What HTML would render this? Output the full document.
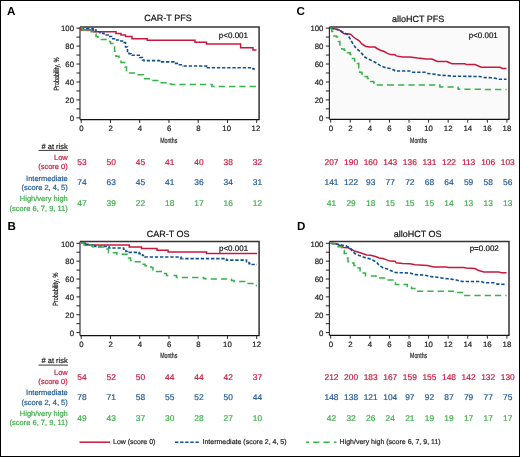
<!DOCTYPE html><html><head><meta charset="utf-8"><style>html,body{margin:0;padding:0;background:#fff;}#w{position:absolute;left:0;top:0;width:520px;height:457px;will-change:transform;filter:blur(0.3px);}svg{display:block;}text{font-family:"Liberation Sans", sans-serif;text-rendering:geometricPrecision;}</style></head><body><div id="w">
<svg width="520" height="457" viewBox="0 0 520 457">
<rect x="0" y="0" width="520" height="457" fill="#fff"/>
<rect x="0.5" y="0.5" width="519" height="456" fill="none" stroke="#000" stroke-width="1"/>
<path d="M80.0,26.9 H259.1 V119.6" fill="none" stroke="#333" stroke-width="1.5"/>
<path d="M80.0,26.9 V119.6" fill="none" stroke="#333" stroke-width="1.2"/>
<path d="M80.0,119.6 H259.6" fill="none" stroke="#111" stroke-width="1.2"/>
<path d="M76.4,117.85 H80.0 M76.4,108.88 H80.0 M76.4,99.91 H80.0 M76.4,90.94 H80.0 M76.4,81.97 H80.0 M76.4,73.00 H80.0 M76.4,64.03 H80.0 M76.4,55.06 H80.0 M76.4,46.09 H80.0 M76.4,37.12 H80.0 M76.4,28.15 H80.0 M81.20,119.6 V122.89999999999999 M110.45,119.6 V122.89999999999999 M139.70,119.6 V122.89999999999999 M168.95,119.6 V122.89999999999999 M198.20,119.6 V122.89999999999999 M227.45,119.6 V122.89999999999999 M256.70,119.6 V122.89999999999999 " fill="none" stroke="#222" stroke-width="1"/>
<text x="74.00" y="120.60" font-size="7.8" fill="#222" text-anchor="end" font-weight="normal" stroke="#222" stroke-width="0.2" >0</text>
<text x="74.00" y="102.66" font-size="7.8" fill="#222" text-anchor="end" font-weight="normal" stroke="#222" stroke-width="0.2" >20</text>
<text x="74.00" y="84.72" font-size="7.8" fill="#222" text-anchor="end" font-weight="normal" stroke="#222" stroke-width="0.2" >40</text>
<text x="74.00" y="66.78" font-size="7.8" fill="#222" text-anchor="end" font-weight="normal" stroke="#222" stroke-width="0.2" >60</text>
<text x="74.00" y="48.84" font-size="7.8" fill="#222" text-anchor="end" font-weight="normal" stroke="#222" stroke-width="0.2" >80</text>
<text x="74.00" y="30.90" font-size="7.8" fill="#222" text-anchor="end" font-weight="normal" stroke="#222" stroke-width="0.2" >100</text>
<text x="81.30" y="130.60" font-size="7.8" fill="#222" text-anchor="middle" font-weight="normal" stroke="#222" stroke-width="0.2" >0</text>
<text x="110.55" y="130.60" font-size="7.8" fill="#222" text-anchor="middle" font-weight="normal" stroke="#222" stroke-width="0.2" >2</text>
<text x="139.80" y="130.60" font-size="7.8" fill="#222" text-anchor="middle" font-weight="normal" stroke="#222" stroke-width="0.2" >4</text>
<text x="169.05" y="130.60" font-size="7.8" fill="#222" text-anchor="middle" font-weight="normal" stroke="#222" stroke-width="0.2" >6</text>
<text x="198.30" y="130.60" font-size="7.8" fill="#222" text-anchor="middle" font-weight="normal" stroke="#222" stroke-width="0.2" >8</text>
<text x="226.65" y="130.60" font-size="7.8" fill="#222" text-anchor="middle" font-weight="normal" stroke="#222" stroke-width="0.2" >10</text>
<text x="255.90" y="130.60" font-size="7.8" fill="#222" text-anchor="middle" font-weight="normal" stroke="#222" stroke-width="0.2" >12</text>
<text x="168.75" y="142.50" font-size="7.5" fill="#222" text-anchor="middle" font-weight="normal" stroke="#222" stroke-width="0.2" textLength="17" lengthAdjust="spacingAndGlyphs">Months</text>
<text x="0" y="0" font-size="7.5" fill="#222" text-anchor="middle" stroke="#222" stroke-width="0.2" textLength="33.1" lengthAdjust="spacingAndGlyphs" transform="translate(59.2,74.05) rotate(-90)">Probability, %</text>
<text x="168.00" y="21.30" font-size="9.0" fill="#111" text-anchor="middle" font-weight="normal" stroke="#111" stroke-width="0.2" >CAR-T PFS</text>
<text x="248.00" y="37.90" font-size="8.0" fill="#111" text-anchor="end" font-weight="normal" stroke="#111" stroke-width="0.2" >p&lt;0.001</text>
<text x="7.00" y="14.80" font-size="11.6" fill="#000" text-anchor="start" font-weight="bold" >A</text>
<path d="M81,28.3 V29.9 H93.5 V31.75 H116 V33.4 H121 V35 H125.5 V36.5 H132 V38.75 H147.2 V40.25 H195 V42.2 H206.5 V44 H240.6 V47.75 H253 V50 H256.5" fill="none" stroke="#c8193c" stroke-width="1.5" stroke-linejoin="miter"/>
<path d="M81.00,28.50 L93.00,28.50 L93.00,30.00 L96.00,30.00 L96.00,31.75 L100.00,31.75 L100.00,33.40 L104.00,33.40 L104.00,35.00 L108.00,35.00 L108.00,36.50 L111.50,36.50 L111.50,38.75 L115.50,38.75 L115.50,40.00 L120.00,40.00 L120.00,41.00 L124.00,41.00 L124.00,42.50 L125.50,42.50 L125.50,47.00 L127.50,47.00 L127.50,51.50 L129.00,51.50 L129.00,53.75 L131.00,53.75 L131.00,55.25 L140.00,55.25 L140.00,57.50 L142.50,57.50 L142.50,60.00 L144.00,60.00 L144.00,60.60 L160.50,60.60 L160.50,61.90 L174.50,61.90 L174.50,63.40 L178.50,63.40 L178.50,64.75 L182.50,64.75 L182.50,66.00 L183.00,66.00" fill="none" stroke="#11508f" stroke-width="1.6" stroke-dasharray="3.3 1.85" stroke-dashoffset="0.00"/>
<path d="M183.00,66.00 L206.50,66.00 L206.50,67.75 L206.60,67.75" fill="none" stroke="#11508f" stroke-width="1.6" stroke-dasharray="3.3 1.85" stroke-dashoffset="4.55"/>
<path d="M206.60,67.75 L253.00,67.75 L253.00,69.00 L256.50,69.00" fill="none" stroke="#11508f" stroke-width="1.6" stroke-dasharray="3.3 1.85" stroke-dashoffset="5.10"/>
<path d="M81.00,28.30 L82.50,28.30 L82.50,29.90 L91.00,29.90 L91.00,31.75 L94.00,31.75 L94.00,34.00 L96.00,34.00 L96.00,36.50 L98.00,36.50 L98.00,39.60 L108.00,39.60 L108.00,41.50 L110.50,41.50 L110.50,43.40 L113.00,43.40 L113.00,47.00 L114.50,47.00 L114.50,51.25 L116.00,51.25 L116.00,56.25 L119.00,56.25 L119.00,59.00 L121.00,59.00 L121.00,62.50 L125.00,62.50 L125.00,67.00 L126.50,67.00 L126.50,70.60 L128.00,70.60 L128.00,73.10 L136.00,73.10 L136.00,74.75 L143.50,74.75 L143.50,78.75 L151.00,78.75 L151.00,80.60 L159.50,80.60 L159.50,82.75 L168.00,82.75 L168.00,84.00 L171.00,84.00 L171.00,84.60 L171.00,84.60" fill="none" stroke="#36b24a" stroke-width="1.5" stroke-dasharray="6.2 4.1" stroke-dashoffset="0.00"/>
<path d="M171.00,84.60 L212.00,84.60 L212.00,86.50 L212.50,86.50" fill="none" stroke="#36b24a" stroke-width="1.5" stroke-dasharray="6.2 4.1" stroke-dashoffset="1.90"/>
<path d="M212.50,86.50 L256.50,86.50" fill="none" stroke="#36b24a" stroke-width="1.5" stroke-dasharray="6.2 4.1" stroke-dashoffset="4.05"/>
<text x="82.00" y="164.70" font-size="8.4" fill="#c8193c" text-anchor="middle" font-weight="normal" stroke="#c8193c" stroke-width="0.2" >53</text>
<text x="111.25" y="164.70" font-size="8.4" fill="#c8193c" text-anchor="middle" font-weight="normal" stroke="#c8193c" stroke-width="0.2" >50</text>
<text x="140.50" y="164.70" font-size="8.4" fill="#c8193c" text-anchor="middle" font-weight="normal" stroke="#c8193c" stroke-width="0.2" >45</text>
<text x="169.75" y="164.70" font-size="8.4" fill="#c8193c" text-anchor="middle" font-weight="normal" stroke="#c8193c" stroke-width="0.2" >41</text>
<text x="199.00" y="164.70" font-size="8.4" fill="#c8193c" text-anchor="middle" font-weight="normal" stroke="#c8193c" stroke-width="0.2" >40</text>
<text x="228.25" y="164.70" font-size="8.4" fill="#c8193c" text-anchor="middle" font-weight="normal" stroke="#c8193c" stroke-width="0.2" >38</text>
<text x="257.50" y="164.70" font-size="8.4" fill="#c8193c" text-anchor="middle" font-weight="normal" stroke="#c8193c" stroke-width="0.2" >32</text>
<text x="82.00" y="185.30" font-size="8.4" fill="#1f5a96" text-anchor="middle" font-weight="normal" stroke="#1f5a96" stroke-width="0.2" >74</text>
<text x="111.25" y="185.30" font-size="8.4" fill="#1f5a96" text-anchor="middle" font-weight="normal" stroke="#1f5a96" stroke-width="0.2" >63</text>
<text x="140.50" y="185.30" font-size="8.4" fill="#1f5a96" text-anchor="middle" font-weight="normal" stroke="#1f5a96" stroke-width="0.2" >45</text>
<text x="169.75" y="185.30" font-size="8.4" fill="#1f5a96" text-anchor="middle" font-weight="normal" stroke="#1f5a96" stroke-width="0.2" >41</text>
<text x="199.00" y="185.30" font-size="8.4" fill="#1f5a96" text-anchor="middle" font-weight="normal" stroke="#1f5a96" stroke-width="0.2" >36</text>
<text x="228.25" y="185.30" font-size="8.4" fill="#1f5a96" text-anchor="middle" font-weight="normal" stroke="#1f5a96" stroke-width="0.2" >34</text>
<text x="257.50" y="185.30" font-size="8.4" fill="#1f5a96" text-anchor="middle" font-weight="normal" stroke="#1f5a96" stroke-width="0.2" >31</text>
<text x="82.00" y="205.90" font-size="8.4" fill="#3daf4a" text-anchor="middle" font-weight="normal" stroke="#3daf4a" stroke-width="0.2" >47</text>
<text x="111.25" y="205.90" font-size="8.4" fill="#3daf4a" text-anchor="middle" font-weight="normal" stroke="#3daf4a" stroke-width="0.2" >39</text>
<text x="140.50" y="205.90" font-size="8.4" fill="#3daf4a" text-anchor="middle" font-weight="normal" stroke="#3daf4a" stroke-width="0.2" >22</text>
<text x="169.75" y="205.90" font-size="8.4" fill="#3daf4a" text-anchor="middle" font-weight="normal" stroke="#3daf4a" stroke-width="0.2" >18</text>
<text x="199.00" y="205.90" font-size="8.4" fill="#3daf4a" text-anchor="middle" font-weight="normal" stroke="#3daf4a" stroke-width="0.2" >17</text>
<text x="228.25" y="205.90" font-size="8.4" fill="#3daf4a" text-anchor="middle" font-weight="normal" stroke="#3daf4a" stroke-width="0.2" >16</text>
<text x="257.50" y="205.90" font-size="8.4" fill="#3daf4a" text-anchor="middle" font-weight="normal" stroke="#3daf4a" stroke-width="0.2" >12</text>
<text x="67.80" y="148.60" font-size="7.5" fill="#222" text-anchor="end" font-weight="normal" stroke="#222" stroke-width="0.2" ># at risk</text>
<path d="M38.5,150.40 H68" stroke="#222" stroke-width="0.9"/>
<text x="67.80" y="160.10" font-size="7.5" fill="#c8193c" text-anchor="end" font-weight="normal" stroke="#c8193c" stroke-width="0.2" >Low</text>
<text x="67.80" y="169.20" font-size="7.5" fill="#c8193c" text-anchor="end" font-weight="normal" stroke="#c8193c" stroke-width="0.2" >(score 0)</text>
<text x="67.80" y="180.70" font-size="7.5" fill="#1f5a96" text-anchor="end" font-weight="normal" stroke="#1f5a96" stroke-width="0.2" >Intermediate</text>
<text x="67.80" y="189.80" font-size="7.5" fill="#1f5a96" text-anchor="end" font-weight="normal" stroke="#1f5a96" stroke-width="0.2" >(score 2, 4, 5)</text>
<text x="67.80" y="201.30" font-size="7.5" fill="#3daf4a" text-anchor="end" font-weight="normal" stroke="#3daf4a" stroke-width="0.2" >High/very high</text>
<text x="67.80" y="210.50" font-size="7.5" fill="#3daf4a" text-anchor="end" font-weight="normal" stroke="#3daf4a" stroke-width="0.2" >(score 6, 7, 9, 11)</text>
<path d="M80.0,241.6 H259.1 V335.6" fill="none" stroke="#333" stroke-width="1.5"/>
<path d="M80.0,241.6 V335.6" fill="none" stroke="#333" stroke-width="1.2"/>
<path d="M80.0,335.6 H259.6" fill="none" stroke="#111" stroke-width="1.2"/>
<path d="M76.4,332.60 H80.0 M76.4,323.67 H80.0 M76.4,314.74 H80.0 M76.4,305.81 H80.0 M76.4,296.88 H80.0 M76.4,287.95 H80.0 M76.4,279.02 H80.0 M76.4,270.09 H80.0 M76.4,261.16 H80.0 M76.4,252.23 H80.0 M76.4,243.30 H80.0 M81.20,335.6 V338.90000000000003 M110.45,335.6 V338.90000000000003 M139.70,335.6 V338.90000000000003 M168.95,335.6 V338.90000000000003 M198.20,335.6 V338.90000000000003 M227.45,335.6 V338.90000000000003 M256.70,335.6 V338.90000000000003 " fill="none" stroke="#222" stroke-width="1"/>
<text x="74.00" y="335.80" font-size="7.8" fill="#222" text-anchor="end" font-weight="normal" stroke="#222" stroke-width="0.2" >0</text>
<text x="74.00" y="317.94" font-size="7.8" fill="#222" text-anchor="end" font-weight="normal" stroke="#222" stroke-width="0.2" >20</text>
<text x="74.00" y="300.08" font-size="7.8" fill="#222" text-anchor="end" font-weight="normal" stroke="#222" stroke-width="0.2" >40</text>
<text x="74.00" y="282.22" font-size="7.8" fill="#222" text-anchor="end" font-weight="normal" stroke="#222" stroke-width="0.2" >60</text>
<text x="74.00" y="264.36" font-size="7.8" fill="#222" text-anchor="end" font-weight="normal" stroke="#222" stroke-width="0.2" >80</text>
<text x="74.00" y="246.50" font-size="7.8" fill="#222" text-anchor="end" font-weight="normal" stroke="#222" stroke-width="0.2" >100</text>
<text x="81.30" y="346.60" font-size="7.8" fill="#222" text-anchor="middle" font-weight="normal" stroke="#222" stroke-width="0.2" >0</text>
<text x="110.55" y="346.60" font-size="7.8" fill="#222" text-anchor="middle" font-weight="normal" stroke="#222" stroke-width="0.2" >2</text>
<text x="139.80" y="346.60" font-size="7.8" fill="#222" text-anchor="middle" font-weight="normal" stroke="#222" stroke-width="0.2" >4</text>
<text x="169.05" y="346.60" font-size="7.8" fill="#222" text-anchor="middle" font-weight="normal" stroke="#222" stroke-width="0.2" >6</text>
<text x="198.30" y="346.60" font-size="7.8" fill="#222" text-anchor="middle" font-weight="normal" stroke="#222" stroke-width="0.2" >8</text>
<text x="227.45" y="346.60" font-size="7.8" fill="#222" text-anchor="middle" font-weight="normal" stroke="#222" stroke-width="0.2" >10</text>
<text x="256.70" y="346.60" font-size="7.8" fill="#222" text-anchor="middle" font-weight="normal" stroke="#222" stroke-width="0.2" >12</text>
<text x="168.75" y="358.40" font-size="7.5" fill="#222" text-anchor="middle" font-weight="normal" stroke="#222" stroke-width="0.2" textLength="17" lengthAdjust="spacingAndGlyphs">Months</text>
<text x="0" y="0" font-size="7.5" fill="#222" text-anchor="middle" stroke="#222" stroke-width="0.2" textLength="33.1" lengthAdjust="spacingAndGlyphs" transform="translate(57.8,289.25) rotate(-90)">Probability, %</text>
<text x="168.20" y="236.90" font-size="9.0" fill="#111" text-anchor="middle" font-weight="normal" stroke="#111" stroke-width="0.2" >CAR-T OS</text>
<text x="248.10" y="250.90" font-size="8.0" fill="#111" text-anchor="end" font-weight="normal" stroke="#111" stroke-width="0.2" >p&lt;0.001</text>
<text x="7.60" y="229.80" font-size="11.6" fill="#000" text-anchor="start" font-weight="bold" >B</text>
<path d="M81,243.3 H85.5 V244.9 H129.25 V247 H141.5 V248.6 H157 V250.25 H168.1 V252 H206.5 V253.6 H257" fill="none" stroke="#c8193c" stroke-width="1.5" stroke-linejoin="miter"/>
<path d="M81.00,243.30 L84.00,243.30 L84.00,244.25 L88.00,244.25 L88.00,244.90 L92.00,244.90 L92.00,245.75 L95.00,245.75 L95.00,246.50 L109.00,246.50 L109.00,248.00 L123.50,248.00 L123.50,249.25 L126.00,249.25 L126.00,251.50 L127.50,251.50 L127.50,252.40 L139.00,252.40 L139.00,253.60 L142.50,253.60 L142.50,255.50 L145.00,255.50 L145.00,257.00 L181.00,257.00 L181.00,258.60 L182.50,258.60" fill="none" stroke="#11508f" stroke-width="1.6" stroke-dasharray="3.3 1.85" stroke-dashoffset="0.00"/>
<path d="M182.50,258.60 L226.50,258.60 L226.50,260.10 L246.50,260.10 L246.50,261.75 L249.00,261.75 L249.00,263.60 L251.00,263.60 L251.00,264.50 L257.00,264.50" fill="none" stroke="#11508f" stroke-width="1.6" stroke-dasharray="3.3 1.85" stroke-dashoffset="2.35"/>
<path d="M81.00,243.30 L84.00,243.30 L84.00,244.90 L91.50,244.90 L91.50,246.10 L93.00,246.10 L93.00,247.00 L107.00,247.00 L107.00,249.00 L108.50,249.00 L108.50,252.70 L117.00,252.70 L117.00,254.25 L128.50,254.25 L128.50,258.00 L130.50,258.00 L130.50,260.50 L133.00,260.50 L133.00,261.80 L141.50,261.80 L141.50,264.25 L145.00,264.25 L145.00,265.75 L151.00,265.75 L151.00,267.40 L153.00,267.40 L153.00,269.90 L155.50,269.90 L155.50,271.50 L163.00,271.50 L163.00,273.60 L166.50,273.60 L166.50,275.40 L171.00,275.40" fill="none" stroke="#36b24a" stroke-width="1.5" stroke-dasharray="6.2 4.1" stroke-dashoffset="0.00"/>
<path d="M171.00,275.40 L176.50,275.40 L176.50,277.40 L203.50,277.40 L203.50,278.60 L205.50,278.60 L205.50,279.00 L205.80,279.00" fill="none" stroke="#36b24a" stroke-width="1.5" stroke-dasharray="6.2 4.1" stroke-dashoffset="7.80"/>
<path d="M205.80,279.00 L231.50,279.00 L231.50,280.50 L234.00,280.50 L234.00,281.50 L247.00,281.50 L247.00,283.50 L254.50,283.50 L254.50,285.50 L257.00,285.50" fill="none" stroke="#36b24a" stroke-width="1.5" stroke-dasharray="6.2 4.1" stroke-dashoffset="5.40"/>
<text x="82.00" y="379.50" font-size="8.4" fill="#c8193c" text-anchor="middle" font-weight="normal" stroke="#c8193c" stroke-width="0.2" >54</text>
<text x="111.25" y="379.50" font-size="8.4" fill="#c8193c" text-anchor="middle" font-weight="normal" stroke="#c8193c" stroke-width="0.2" >52</text>
<text x="140.50" y="379.50" font-size="8.4" fill="#c8193c" text-anchor="middle" font-weight="normal" stroke="#c8193c" stroke-width="0.2" >50</text>
<text x="169.75" y="379.50" font-size="8.4" fill="#c8193c" text-anchor="middle" font-weight="normal" stroke="#c8193c" stroke-width="0.2" >44</text>
<text x="199.00" y="379.50" font-size="8.4" fill="#c8193c" text-anchor="middle" font-weight="normal" stroke="#c8193c" stroke-width="0.2" >44</text>
<text x="228.25" y="379.50" font-size="8.4" fill="#c8193c" text-anchor="middle" font-weight="normal" stroke="#c8193c" stroke-width="0.2" >42</text>
<text x="257.50" y="379.50" font-size="8.4" fill="#c8193c" text-anchor="middle" font-weight="normal" stroke="#c8193c" stroke-width="0.2" >37</text>
<text x="82.00" y="400.10" font-size="8.4" fill="#1f5a96" text-anchor="middle" font-weight="normal" stroke="#1f5a96" stroke-width="0.2" >78</text>
<text x="111.25" y="400.10" font-size="8.4" fill="#1f5a96" text-anchor="middle" font-weight="normal" stroke="#1f5a96" stroke-width="0.2" >71</text>
<text x="140.50" y="400.10" font-size="8.4" fill="#1f5a96" text-anchor="middle" font-weight="normal" stroke="#1f5a96" stroke-width="0.2" >58</text>
<text x="169.75" y="400.10" font-size="8.4" fill="#1f5a96" text-anchor="middle" font-weight="normal" stroke="#1f5a96" stroke-width="0.2" >55</text>
<text x="199.00" y="400.10" font-size="8.4" fill="#1f5a96" text-anchor="middle" font-weight="normal" stroke="#1f5a96" stroke-width="0.2" >52</text>
<text x="228.25" y="400.10" font-size="8.4" fill="#1f5a96" text-anchor="middle" font-weight="normal" stroke="#1f5a96" stroke-width="0.2" >50</text>
<text x="257.50" y="400.10" font-size="8.4" fill="#1f5a96" text-anchor="middle" font-weight="normal" stroke="#1f5a96" stroke-width="0.2" >44</text>
<text x="82.00" y="420.60" font-size="8.4" fill="#3daf4a" text-anchor="middle" font-weight="normal" stroke="#3daf4a" stroke-width="0.2" >49</text>
<text x="111.25" y="420.60" font-size="8.4" fill="#3daf4a" text-anchor="middle" font-weight="normal" stroke="#3daf4a" stroke-width="0.2" >43</text>
<text x="140.50" y="420.60" font-size="8.4" fill="#3daf4a" text-anchor="middle" font-weight="normal" stroke="#3daf4a" stroke-width="0.2" >37</text>
<text x="169.75" y="420.60" font-size="8.4" fill="#3daf4a" text-anchor="middle" font-weight="normal" stroke="#3daf4a" stroke-width="0.2" >30</text>
<text x="199.00" y="420.60" font-size="8.4" fill="#3daf4a" text-anchor="middle" font-weight="normal" stroke="#3daf4a" stroke-width="0.2" >28</text>
<text x="228.25" y="420.60" font-size="8.4" fill="#3daf4a" text-anchor="middle" font-weight="normal" stroke="#3daf4a" stroke-width="0.2" >27</text>
<text x="257.50" y="420.60" font-size="8.4" fill="#3daf4a" text-anchor="middle" font-weight="normal" stroke="#3daf4a" stroke-width="0.2" >10</text>
<text x="67.80" y="363.30" font-size="7.5" fill="#222" text-anchor="end" font-weight="normal" stroke="#222" stroke-width="0.2" ># at risk</text>
<path d="M38.5,365.10 H68" stroke="#222" stroke-width="0.9"/>
<text x="67.80" y="374.80" font-size="7.5" fill="#c8193c" text-anchor="end" font-weight="normal" stroke="#c8193c" stroke-width="0.2" >Low</text>
<text x="67.80" y="383.90" font-size="7.5" fill="#c8193c" text-anchor="end" font-weight="normal" stroke="#c8193c" stroke-width="0.2" >(score 0)</text>
<text x="67.80" y="395.40" font-size="7.5" fill="#1f5a96" text-anchor="end" font-weight="normal" stroke="#1f5a96" stroke-width="0.2" >Intermediate</text>
<text x="67.80" y="404.50" font-size="7.5" fill="#1f5a96" text-anchor="end" font-weight="normal" stroke="#1f5a96" stroke-width="0.2" >(score 2, 4, 5)</text>
<text x="67.80" y="416.00" font-size="7.5" fill="#3daf4a" text-anchor="end" font-weight="normal" stroke="#3daf4a" stroke-width="0.2" >High/very high</text>
<text x="67.80" y="425.20" font-size="7.5" fill="#3daf4a" text-anchor="end" font-weight="normal" stroke="#3daf4a" stroke-width="0.2" >(score 6, 7, 9, 11)</text>
<rect x="329.4" y="26.9" width="179.60000000000002" height="92.4" fill="#fafafa"/>
<path d="M329.4,26.9 H509.0 V119.3" fill="none" stroke="#333" stroke-width="1.5"/>
<path d="M329.4,26.9 V119.3" fill="none" stroke="#333" stroke-width="1.2"/>
<path d="M329.4,119.3 H509.5" fill="none" stroke="#111" stroke-width="1.2"/>
<path d="M325.79999999999995,117.85 H329.4 M325.79999999999995,108.88 H329.4 M325.79999999999995,99.91 H329.4 M325.79999999999995,90.94 H329.4 M325.79999999999995,81.97 H329.4 M325.79999999999995,73.00 H329.4 M325.79999999999995,64.03 H329.4 M325.79999999999995,55.06 H329.4 M325.79999999999995,46.09 H329.4 M325.79999999999995,37.12 H329.4 M325.79999999999995,28.15 H329.4 M330.70,119.3 V122.6 M350.28,119.3 V122.6 M369.86,119.3 V122.6 M389.44,119.3 V122.6 M409.02,119.3 V122.6 M428.60,119.3 V122.6 M448.18,119.3 V122.6 M467.76,119.3 V122.6 M487.34,119.3 V122.6 M506.92,119.3 V122.6 " fill="none" stroke="#222" stroke-width="1"/>
<text x="323.40" y="120.60" font-size="7.8" fill="#222" text-anchor="end" font-weight="normal" stroke="#222" stroke-width="0.2" >0</text>
<text x="323.40" y="102.66" font-size="7.8" fill="#222" text-anchor="end" font-weight="normal" stroke="#222" stroke-width="0.2" >20</text>
<text x="323.40" y="84.72" font-size="7.8" fill="#222" text-anchor="end" font-weight="normal" stroke="#222" stroke-width="0.2" >40</text>
<text x="323.40" y="66.78" font-size="7.8" fill="#222" text-anchor="end" font-weight="normal" stroke="#222" stroke-width="0.2" >60</text>
<text x="323.40" y="48.84" font-size="7.8" fill="#222" text-anchor="end" font-weight="normal" stroke="#222" stroke-width="0.2" >80</text>
<text x="323.40" y="30.90" font-size="7.8" fill="#222" text-anchor="end" font-weight="normal" stroke="#222" stroke-width="0.2" >100</text>
<text x="330.80" y="130.60" font-size="7.8" fill="#222" text-anchor="middle" font-weight="normal" stroke="#222" stroke-width="0.2" >0</text>
<text x="350.38" y="130.60" font-size="7.8" fill="#222" text-anchor="middle" font-weight="normal" stroke="#222" stroke-width="0.2" >2</text>
<text x="369.96" y="130.60" font-size="7.8" fill="#222" text-anchor="middle" font-weight="normal" stroke="#222" stroke-width="0.2" >4</text>
<text x="389.54" y="130.60" font-size="7.8" fill="#222" text-anchor="middle" font-weight="normal" stroke="#222" stroke-width="0.2" >6</text>
<text x="409.12" y="130.60" font-size="7.8" fill="#222" text-anchor="middle" font-weight="normal" stroke="#222" stroke-width="0.2" >8</text>
<text x="428.60" y="130.60" font-size="7.8" fill="#222" text-anchor="middle" font-weight="normal" stroke="#222" stroke-width="0.2" >10</text>
<text x="448.18" y="130.60" font-size="7.8" fill="#222" text-anchor="middle" font-weight="normal" stroke="#222" stroke-width="0.2" >12</text>
<text x="467.76" y="130.60" font-size="7.8" fill="#222" text-anchor="middle" font-weight="normal" stroke="#222" stroke-width="0.2" >14</text>
<text x="487.34" y="130.60" font-size="7.8" fill="#222" text-anchor="middle" font-weight="normal" stroke="#222" stroke-width="0.2" >16</text>
<text x="506.92" y="130.60" font-size="7.8" fill="#222" text-anchor="middle" font-weight="normal" stroke="#222" stroke-width="0.2" >18</text>
<text x="418.61" y="142.50" font-size="7.5" fill="#222" text-anchor="middle" font-weight="normal" stroke="#222" stroke-width="0.2" textLength="17" lengthAdjust="spacingAndGlyphs">Months</text>
<text x="418.10" y="21.90" font-size="9.0" fill="#111" text-anchor="middle" font-weight="normal" stroke="#111" stroke-width="0.2" >alloHCT PFS</text>
<text x="497.80" y="37.90" font-size="8.0" fill="#111" text-anchor="end" font-weight="normal" stroke="#111" stroke-width="0.2" >p&lt;0.001</text>
<text x="296.60" y="15.20" font-size="11.6" fill="#000" text-anchor="start" font-weight="bold" >C</text>
<path d="M330.50,28.30 L335.50,29.00 L339.25,30.00 L341.75,32.10 L344.25,33.75 L348.00,33.75 L350.50,34.25 L353.00,36.50 L356.10,39.00 L359.25,40.90 L361.75,44.00 L365.50,46.25 L369.25,47.10 L374.90,47.10 L377.40,48.75 L380.50,50.25 L384.25,51.50 L387.40,53.40 L390.50,54.60 L395.00,54.75 L396.25,55.90 L402.50,56.90 L410.00,56.90 L417.50,58.10 L426.25,59.10 L431.90,59.10 L437.50,61.50 L446.90,61.50 L451.25,63.50 L452.50,63.75 L465.00,63.75 L466.25,64.60 L475.00,64.60 L481.25,67.25 L500.00,67.25 L502.50,68.40 L506.50,68.40" fill="none" stroke="#c8193c" stroke-width="1.5" stroke-linejoin="miter"/>
<path d="M330.50,28.30 L338.00,29.60 L343.00,32.10 L347.40,34.60 L349.90,38.40 L353.00,44.00 L356.10,48.40 L358.60,50.25 L361.75,53.40 L365.00,57.25 L370.00,59.75 L375.00,62.25 L380.00,65.40 L385.00,67.50 L390.00,68.50 L394.40,70.25 L395.00,71.00 L410.00,71.00 L412.50,72.25 L425.00,72.25 L427.50,73.50 L436.25,74.40 L440.00,75.25 L447.50,75.60 L452.00,76.20 L480.00,76.50 L483.10,77.50 L492.50,77.75 L496.25,78.50 L498.75,79.20 L506.50,79.20" fill="none" stroke="#11508f" stroke-width="1.6" stroke-dasharray="3.3 1.85" stroke-dashoffset="0.00"/>
<path d="M330.50,28.30 L330.80,28.30 L330.80,28.50 L331.10,28.50 L331.75,28.50 L331.75,31.50 L332.40,31.50 L333.95,31.50 L333.95,35.90 L335.50,35.90 L336.45,35.90 L336.45,37.10 L337.40,37.10 L338.32,37.10 L338.32,41.50 L339.25,41.50 L339.88,41.50 L339.88,45.90 L340.50,45.90 L341.75,45.90 L341.75,49.00 L343.00,49.00 L344.25,49.00 L344.25,50.25 L345.50,50.25 L347.38,50.25 L347.38,52.75 L349.25,52.75 L350.18,52.75 L350.18,54.60 L351.10,54.60 L352.35,54.60 L352.35,58.40 L353.60,58.40 L354.55,58.40 L354.55,61.00 L355.50,61.00 L357.12,61.00 L357.12,63.50 L358.75,63.50 L358.75,67.90 L359.68,67.90 L359.68,72.25 L360.60,72.25 L361.85,72.25 L361.85,74.10 L363.10,74.10 L364.68,74.10 L364.68,76.60 L366.25,76.60 L367.50,76.60 L367.50,78.50 L368.75,78.50 L370.62,78.50 L370.62,81.60 L372.50,81.60 L373.75,81.60 L373.75,82.90 L375.00,82.90 L376.25,82.90 L376.25,85.10 L377.50,85.10 L390.00,85.10" fill="none" stroke="#36b24a" stroke-width="1.5" stroke-dasharray="6.2 4.1" stroke-dashoffset="0.00"/>
<path d="M390.00,85.10 L438.00,85.10" fill="none" stroke="#36b24a" stroke-width="1.5" stroke-dasharray="6.2 4.1" stroke-dashoffset="2.20"/>
<path d="M438.00,85.10 L439.60,85.10 L439.90,85.10 L439.90,86.90 L440.20,86.90 L457.50,86.90 L458.00,86.90 L458.00,88.75 L458.20,88.75" fill="none" stroke="#36b24a" stroke-width="1.5" stroke-dasharray="6.2 4.1" stroke-dashoffset="9.30"/>
<path d="M458.20,88.75 L458.50,88.75 L458.75,88.75 L458.75,89.20 L459.00,89.20 L482.75,89.20 L482.75,89.40 L506.50,89.40" fill="none" stroke="#36b24a" stroke-width="1.5" stroke-dasharray="6.2 4.1" stroke-dashoffset="3.65"/>
<text x="331.50" y="164.70" font-size="8.4" fill="#c8193c" text-anchor="middle" font-weight="normal" stroke="#c8193c" stroke-width="0.2" >207</text>
<text x="351.08" y="164.70" font-size="8.4" fill="#c8193c" text-anchor="middle" font-weight="normal" stroke="#c8193c" stroke-width="0.2" >190</text>
<text x="370.66" y="164.70" font-size="8.4" fill="#c8193c" text-anchor="middle" font-weight="normal" stroke="#c8193c" stroke-width="0.2" >160</text>
<text x="390.24" y="164.70" font-size="8.4" fill="#c8193c" text-anchor="middle" font-weight="normal" stroke="#c8193c" stroke-width="0.2" >143</text>
<text x="409.82" y="164.70" font-size="8.4" fill="#c8193c" text-anchor="middle" font-weight="normal" stroke="#c8193c" stroke-width="0.2" >136</text>
<text x="429.40" y="164.70" font-size="8.4" fill="#c8193c" text-anchor="middle" font-weight="normal" stroke="#c8193c" stroke-width="0.2" >131</text>
<text x="448.98" y="164.70" font-size="8.4" fill="#c8193c" text-anchor="middle" font-weight="normal" stroke="#c8193c" stroke-width="0.2" >122</text>
<text x="468.56" y="164.70" font-size="8.4" fill="#c8193c" text-anchor="middle" font-weight="normal" stroke="#c8193c" stroke-width="0.2" >113</text>
<text x="488.14" y="164.70" font-size="8.4" fill="#c8193c" text-anchor="middle" font-weight="normal" stroke="#c8193c" stroke-width="0.2" >106</text>
<text x="507.72" y="164.70" font-size="8.4" fill="#c8193c" text-anchor="middle" font-weight="normal" stroke="#c8193c" stroke-width="0.2" >103</text>
<text x="331.50" y="185.30" font-size="8.4" fill="#1f5a96" text-anchor="middle" font-weight="normal" stroke="#1f5a96" stroke-width="0.2" >141</text>
<text x="351.08" y="185.30" font-size="8.4" fill="#1f5a96" text-anchor="middle" font-weight="normal" stroke="#1f5a96" stroke-width="0.2" >122</text>
<text x="370.66" y="185.30" font-size="8.4" fill="#1f5a96" text-anchor="middle" font-weight="normal" stroke="#1f5a96" stroke-width="0.2" >93</text>
<text x="390.24" y="185.30" font-size="8.4" fill="#1f5a96" text-anchor="middle" font-weight="normal" stroke="#1f5a96" stroke-width="0.2" >77</text>
<text x="409.82" y="185.30" font-size="8.4" fill="#1f5a96" text-anchor="middle" font-weight="normal" stroke="#1f5a96" stroke-width="0.2" >72</text>
<text x="429.40" y="185.30" font-size="8.4" fill="#1f5a96" text-anchor="middle" font-weight="normal" stroke="#1f5a96" stroke-width="0.2" >68</text>
<text x="448.98" y="185.30" font-size="8.4" fill="#1f5a96" text-anchor="middle" font-weight="normal" stroke="#1f5a96" stroke-width="0.2" >64</text>
<text x="468.56" y="185.30" font-size="8.4" fill="#1f5a96" text-anchor="middle" font-weight="normal" stroke="#1f5a96" stroke-width="0.2" >59</text>
<text x="488.14" y="185.30" font-size="8.4" fill="#1f5a96" text-anchor="middle" font-weight="normal" stroke="#1f5a96" stroke-width="0.2" >58</text>
<text x="507.72" y="185.30" font-size="8.4" fill="#1f5a96" text-anchor="middle" font-weight="normal" stroke="#1f5a96" stroke-width="0.2" >56</text>
<text x="331.50" y="205.90" font-size="8.4" fill="#3daf4a" text-anchor="middle" font-weight="normal" stroke="#3daf4a" stroke-width="0.2" >41</text>
<text x="351.08" y="205.90" font-size="8.4" fill="#3daf4a" text-anchor="middle" font-weight="normal" stroke="#3daf4a" stroke-width="0.2" >29</text>
<text x="370.66" y="205.90" font-size="8.4" fill="#3daf4a" text-anchor="middle" font-weight="normal" stroke="#3daf4a" stroke-width="0.2" >18</text>
<text x="390.24" y="205.90" font-size="8.4" fill="#3daf4a" text-anchor="middle" font-weight="normal" stroke="#3daf4a" stroke-width="0.2" >15</text>
<text x="409.82" y="205.90" font-size="8.4" fill="#3daf4a" text-anchor="middle" font-weight="normal" stroke="#3daf4a" stroke-width="0.2" >15</text>
<text x="429.40" y="205.90" font-size="8.4" fill="#3daf4a" text-anchor="middle" font-weight="normal" stroke="#3daf4a" stroke-width="0.2" >15</text>
<text x="448.98" y="205.90" font-size="8.4" fill="#3daf4a" text-anchor="middle" font-weight="normal" stroke="#3daf4a" stroke-width="0.2" >14</text>
<text x="468.56" y="205.90" font-size="8.4" fill="#3daf4a" text-anchor="middle" font-weight="normal" stroke="#3daf4a" stroke-width="0.2" >13</text>
<text x="488.14" y="205.90" font-size="8.4" fill="#3daf4a" text-anchor="middle" font-weight="normal" stroke="#3daf4a" stroke-width="0.2" >13</text>
<text x="507.72" y="205.90" font-size="8.4" fill="#3daf4a" text-anchor="middle" font-weight="normal" stroke="#3daf4a" stroke-width="0.2" >13</text>
<path d="M329.4,241.5 H509.0 V335.3" fill="none" stroke="#333" stroke-width="1.5"/>
<path d="M329.4,241.5 V335.3" fill="none" stroke="#333" stroke-width="1.2"/>
<path d="M329.4,335.3 H509.5" fill="none" stroke="#111" stroke-width="1.2"/>
<path d="M325.79999999999995,332.60 H329.4 M325.79999999999995,323.67 H329.4 M325.79999999999995,314.74 H329.4 M325.79999999999995,305.81 H329.4 M325.79999999999995,296.88 H329.4 M325.79999999999995,287.95 H329.4 M325.79999999999995,279.02 H329.4 M325.79999999999995,270.09 H329.4 M325.79999999999995,261.16 H329.4 M325.79999999999995,252.23 H329.4 M325.79999999999995,243.30 H329.4 M330.70,335.3 V338.6 M350.28,335.3 V338.6 M369.86,335.3 V338.6 M389.44,335.3 V338.6 M409.02,335.3 V338.6 M428.60,335.3 V338.6 M448.18,335.3 V338.6 M467.76,335.3 V338.6 M487.34,335.3 V338.6 M506.92,335.3 V338.6 " fill="none" stroke="#222" stroke-width="1"/>
<text x="323.40" y="335.80" font-size="7.8" fill="#222" text-anchor="end" font-weight="normal" stroke="#222" stroke-width="0.2" >0</text>
<text x="323.40" y="317.94" font-size="7.8" fill="#222" text-anchor="end" font-weight="normal" stroke="#222" stroke-width="0.2" >20</text>
<text x="323.40" y="300.08" font-size="7.8" fill="#222" text-anchor="end" font-weight="normal" stroke="#222" stroke-width="0.2" >40</text>
<text x="323.40" y="282.22" font-size="7.8" fill="#222" text-anchor="end" font-weight="normal" stroke="#222" stroke-width="0.2" >60</text>
<text x="323.40" y="264.36" font-size="7.8" fill="#222" text-anchor="end" font-weight="normal" stroke="#222" stroke-width="0.2" >80</text>
<text x="323.40" y="246.50" font-size="7.8" fill="#222" text-anchor="end" font-weight="normal" stroke="#222" stroke-width="0.2" >100</text>
<text x="330.80" y="346.60" font-size="7.8" fill="#222" text-anchor="middle" font-weight="normal" stroke="#222" stroke-width="0.2" >0</text>
<text x="350.38" y="346.60" font-size="7.8" fill="#222" text-anchor="middle" font-weight="normal" stroke="#222" stroke-width="0.2" >2</text>
<text x="369.96" y="346.60" font-size="7.8" fill="#222" text-anchor="middle" font-weight="normal" stroke="#222" stroke-width="0.2" >4</text>
<text x="389.54" y="346.60" font-size="7.8" fill="#222" text-anchor="middle" font-weight="normal" stroke="#222" stroke-width="0.2" >6</text>
<text x="409.12" y="346.60" font-size="7.8" fill="#222" text-anchor="middle" font-weight="normal" stroke="#222" stroke-width="0.2" >8</text>
<text x="428.60" y="346.60" font-size="7.8" fill="#222" text-anchor="middle" font-weight="normal" stroke="#222" stroke-width="0.2" >10</text>
<text x="448.18" y="346.60" font-size="7.8" fill="#222" text-anchor="middle" font-weight="normal" stroke="#222" stroke-width="0.2" >12</text>
<text x="467.76" y="346.60" font-size="7.8" fill="#222" text-anchor="middle" font-weight="normal" stroke="#222" stroke-width="0.2" >14</text>
<text x="487.34" y="346.60" font-size="7.8" fill="#222" text-anchor="middle" font-weight="normal" stroke="#222" stroke-width="0.2" >16</text>
<text x="506.92" y="346.60" font-size="7.8" fill="#222" text-anchor="middle" font-weight="normal" stroke="#222" stroke-width="0.2" >18</text>
<text x="418.61" y="358.40" font-size="7.5" fill="#222" text-anchor="middle" font-weight="normal" stroke="#222" stroke-width="0.2" textLength="17" lengthAdjust="spacingAndGlyphs">Months</text>
<text x="417.70" y="236.90" font-size="9.0" fill="#111" text-anchor="middle" font-weight="normal" stroke="#111" stroke-width="0.2" >alloHCT OS</text>
<text x="498.80" y="250.90" font-size="8.0" fill="#111" text-anchor="end" font-weight="normal" stroke="#111" stroke-width="0.2" >p=0.002</text>
<text x="297.10" y="229.80" font-size="11.6" fill="#000" text-anchor="start" font-weight="bold" >D</text>
<path d="M330.50,243.30 L335.50,243.60 L340.50,245.75 L343.60,247.40 L348.00,247.75 L351.10,249.00 L354.25,251.10 L358.00,252.00 L361.75,253.25 L366.75,254.90 L370.50,255.25 L375.50,256.50 L379.25,258.00 L383.00,258.60 L386.75,259.90 L390.50,261.10 L395.00,261.25 L396.25,262.75 L402.50,263.50 L410.00,263.75 L415.00,264.75 L427.50,265.60 L433.75,267.10 L446.25,267.10 L448.75,267.50 L463.75,267.50 L466.25,268.10 L475.00,268.50 L478.10,270.25 L483.75,271.90 L498.75,271.90 L501.25,272.75 L506.50,272.75" fill="none" stroke="#c8193c" stroke-width="1.5" stroke-linejoin="miter"/>
<path d="M330.50,243.30 L338.00,244.25 L345.50,245.75 L349.25,247.40 L352.40,251.10 L354.90,253.60 L359.25,255.50 L364.25,257.40 L369.25,258.60 L373.00,260.25 L376.75,262.40 L379.25,265.50 L383.00,267.75 L388.00,269.25 L391.75,271.00 L395.00,272.50 L410.00,273.10 L415.00,274.60 L423.75,275.00 L430.00,276.50 L437.50,277.25 L442.50,278.10 L447.50,278.75 L455.00,279.60 L460.00,281.00 L462.50,281.50 L481.25,281.50 L484.40,282.75 L493.75,282.75 L497.50,284.10 L506.50,284.40" fill="none" stroke="#11508f" stroke-width="1.6" stroke-dasharray="3.3 1.85" stroke-dashoffset="0.00"/>
<path d="M330.50,243.30 L333.00,243.30 L333.00,244.00 L335.50,244.00 L338.00,244.00 L338.00,246.75 L340.50,246.75 L341.75,246.75 L341.75,250.50 L343.00,250.50 L344.25,250.50 L344.25,253.60 L345.50,253.60 L346.45,253.60 L346.45,258.00 L347.40,258.00 L348.00,258.00 L348.00,261.75 L348.60,261.75 L350.80,261.75 L350.80,263.00 L353.00,263.00 L353.95,263.00 L353.95,265.50 L354.90,265.50 L356.75,265.50 L356.75,268.00 L358.60,268.00 L360.10,268.00 L360.10,270.70 L361.60,270.70 L361.95,270.70 L361.95,273.10 L362.30,273.10 L365.50,273.10 L365.50,276.00 L368.00,276.00" fill="none" stroke="#36b24a" stroke-width="1.5" stroke-dasharray="6.2 4.1" stroke-dashoffset="0.00"/>
<path d="M368.00,276.00 L376.00,276.00 L376.00,278.10 L385.50,278.10 L385.50,280.00 L395.40,280.00 L395.40,284.50 L407.30,284.50 L407.30,286.50 L409.00,286.50" fill="none" stroke="#36b24a" stroke-width="1.5" stroke-dasharray="6.2 4.1" stroke-dashoffset="7.50"/>
<path d="M409.00,286.50 L411.50,286.50 L411.50,288.60 L416.00,288.60 L416.00,291.25 L456.50,291.25 L456.50,292.50 L463.00,292.50" fill="none" stroke="#36b24a" stroke-width="1.5" stroke-dasharray="6.2 4.1" stroke-dashoffset="7.80"/>
<path d="M463.00,292.50 L463.50,292.50 L463.50,295.60 L506.50,295.60" fill="none" stroke="#36b24a" stroke-width="1.5" stroke-dasharray="6.2 4.1" stroke-dashoffset="6.10"/>
<text x="331.50" y="379.50" font-size="8.4" fill="#c8193c" text-anchor="middle" font-weight="normal" stroke="#c8193c" stroke-width="0.2" >212</text>
<text x="351.08" y="379.50" font-size="8.4" fill="#c8193c" text-anchor="middle" font-weight="normal" stroke="#c8193c" stroke-width="0.2" >200</text>
<text x="370.66" y="379.50" font-size="8.4" fill="#c8193c" text-anchor="middle" font-weight="normal" stroke="#c8193c" stroke-width="0.2" >183</text>
<text x="390.24" y="379.50" font-size="8.4" fill="#c8193c" text-anchor="middle" font-weight="normal" stroke="#c8193c" stroke-width="0.2" >167</text>
<text x="409.82" y="379.50" font-size="8.4" fill="#c8193c" text-anchor="middle" font-weight="normal" stroke="#c8193c" stroke-width="0.2" >159</text>
<text x="429.40" y="379.50" font-size="8.4" fill="#c8193c" text-anchor="middle" font-weight="normal" stroke="#c8193c" stroke-width="0.2" >155</text>
<text x="448.98" y="379.50" font-size="8.4" fill="#c8193c" text-anchor="middle" font-weight="normal" stroke="#c8193c" stroke-width="0.2" >148</text>
<text x="468.56" y="379.50" font-size="8.4" fill="#c8193c" text-anchor="middle" font-weight="normal" stroke="#c8193c" stroke-width="0.2" >142</text>
<text x="488.14" y="379.50" font-size="8.4" fill="#c8193c" text-anchor="middle" font-weight="normal" stroke="#c8193c" stroke-width="0.2" >132</text>
<text x="507.72" y="379.50" font-size="8.4" fill="#c8193c" text-anchor="middle" font-weight="normal" stroke="#c8193c" stroke-width="0.2" >130</text>
<text x="331.50" y="400.10" font-size="8.4" fill="#1f5a96" text-anchor="middle" font-weight="normal" stroke="#1f5a96" stroke-width="0.2" >148</text>
<text x="351.08" y="400.10" font-size="8.4" fill="#1f5a96" text-anchor="middle" font-weight="normal" stroke="#1f5a96" stroke-width="0.2" >138</text>
<text x="370.66" y="400.10" font-size="8.4" fill="#1f5a96" text-anchor="middle" font-weight="normal" stroke="#1f5a96" stroke-width="0.2" >121</text>
<text x="390.24" y="400.10" font-size="8.4" fill="#1f5a96" text-anchor="middle" font-weight="normal" stroke="#1f5a96" stroke-width="0.2" >104</text>
<text x="409.82" y="400.10" font-size="8.4" fill="#1f5a96" text-anchor="middle" font-weight="normal" stroke="#1f5a96" stroke-width="0.2" >97</text>
<text x="429.40" y="400.10" font-size="8.4" fill="#1f5a96" text-anchor="middle" font-weight="normal" stroke="#1f5a96" stroke-width="0.2" >92</text>
<text x="448.98" y="400.10" font-size="8.4" fill="#1f5a96" text-anchor="middle" font-weight="normal" stroke="#1f5a96" stroke-width="0.2" >87</text>
<text x="468.56" y="400.10" font-size="8.4" fill="#1f5a96" text-anchor="middle" font-weight="normal" stroke="#1f5a96" stroke-width="0.2" >79</text>
<text x="488.14" y="400.10" font-size="8.4" fill="#1f5a96" text-anchor="middle" font-weight="normal" stroke="#1f5a96" stroke-width="0.2" >77</text>
<text x="507.72" y="400.10" font-size="8.4" fill="#1f5a96" text-anchor="middle" font-weight="normal" stroke="#1f5a96" stroke-width="0.2" >75</text>
<text x="331.50" y="420.60" font-size="8.4" fill="#3daf4a" text-anchor="middle" font-weight="normal" stroke="#3daf4a" stroke-width="0.2" >42</text>
<text x="351.08" y="420.60" font-size="8.4" fill="#3daf4a" text-anchor="middle" font-weight="normal" stroke="#3daf4a" stroke-width="0.2" >32</text>
<text x="370.66" y="420.60" font-size="8.4" fill="#3daf4a" text-anchor="middle" font-weight="normal" stroke="#3daf4a" stroke-width="0.2" >26</text>
<text x="390.24" y="420.60" font-size="8.4" fill="#3daf4a" text-anchor="middle" font-weight="normal" stroke="#3daf4a" stroke-width="0.2" >24</text>
<text x="409.82" y="420.60" font-size="8.4" fill="#3daf4a" text-anchor="middle" font-weight="normal" stroke="#3daf4a" stroke-width="0.2" >21</text>
<text x="429.40" y="420.60" font-size="8.4" fill="#3daf4a" text-anchor="middle" font-weight="normal" stroke="#3daf4a" stroke-width="0.2" >19</text>
<text x="448.98" y="420.60" font-size="8.4" fill="#3daf4a" text-anchor="middle" font-weight="normal" stroke="#3daf4a" stroke-width="0.2" >19</text>
<text x="468.56" y="420.60" font-size="8.4" fill="#3daf4a" text-anchor="middle" font-weight="normal" stroke="#3daf4a" stroke-width="0.2" >17</text>
<text x="488.14" y="420.60" font-size="8.4" fill="#3daf4a" text-anchor="middle" font-weight="normal" stroke="#3daf4a" stroke-width="0.2" >17</text>
<text x="507.72" y="420.60" font-size="8.4" fill="#3daf4a" text-anchor="middle" font-weight="normal" stroke="#3daf4a" stroke-width="0.2" >17</text>
<path d="M79.5,442.2 H110" stroke="#c8193c" stroke-width="1.5"/>
<text x="113.00" y="443.90" font-size="7.0" fill="#222" text-anchor="start" font-weight="normal" stroke="#222" stroke-width="0.2" >Low (score 0)</text>
<path d="M175,442.3 H200" stroke="#11508f" stroke-width="1.6" stroke-dasharray="3.4 1.7"/>
<text x="202.50" y="443.90" font-size="7.0" fill="#222" text-anchor="start" font-weight="normal" stroke="#222" stroke-width="0.2" >Intermediate (score 2, 4, 5)</text>
<path d="M306,442.2 H336.4" stroke="#36b24a" stroke-width="1.5" stroke-dasharray="6.2 4.1" stroke-dashoffset="3.1"/>
<text x="339.60" y="443.90" font-size="7.0" fill="#222" text-anchor="start" font-weight="normal" stroke="#222" stroke-width="0.2" >High/very high (score 6, 7, 9, 11)</text>
</svg></div></body></html>
